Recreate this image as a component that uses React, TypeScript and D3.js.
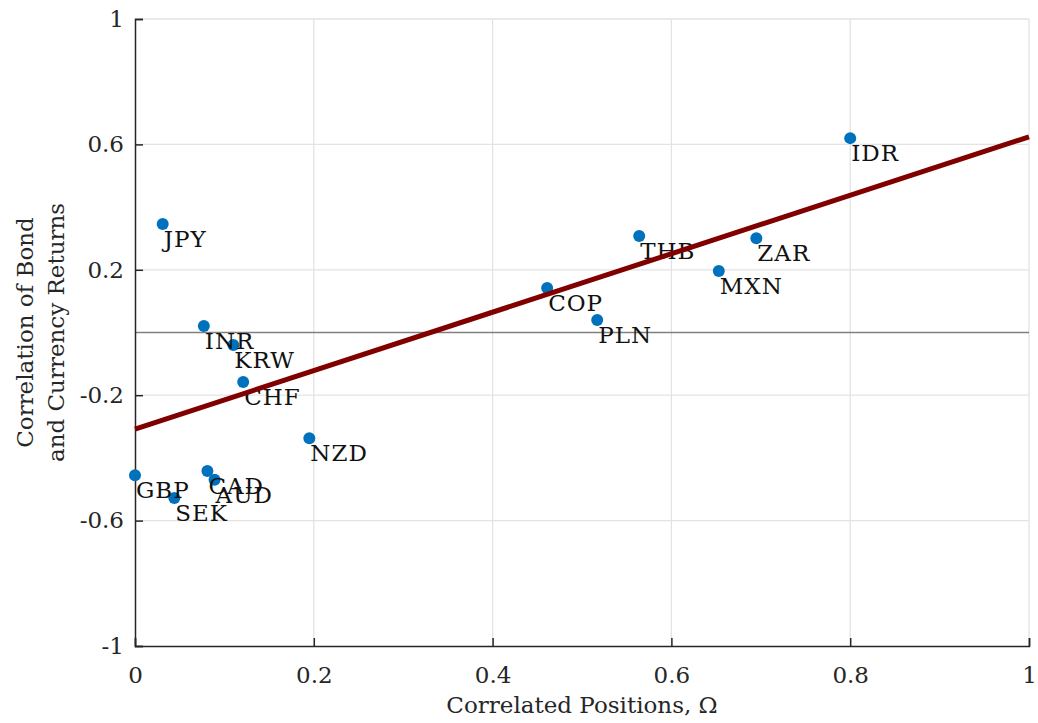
import React, { useEffect, useRef } from 'react';
import * as d3 from 'd3';

// currency points
const currencies = ['JPY', 'IDR', 'THB', 'ZAR', 'MXN', 'COP', 'PLN', 'INR', 'KRW', 'CHF', 'NZD', 'GBP', 'CAD', 'AUD', 'SEK'];
const omega = [0.031, 0.800, 0.564, 0.695, 0.653, 0.461, 0.517, 0.077, 0.110, 0.121, 0.195, 0.000, 0.081, 0.089, 0.044];
const corr = [0.346, 0.620, 0.308, 0.301, 0.196, 0.142, 0.040, 0.021, -0.040, -0.158, -0.337, -0.455, -0.442, -0.470, -0.528];

// fitted line end points
const fitX = [0, 1];
const fitY = [-0.308, 0.624];

const xTicks = [0, 0.2, 0.4, 0.6, 0.8, 1];
const yTicks = [-1, -0.6, -0.2, 0.2, 0.6, 1];

const FONT = "'DejaVu Serif', 'Liberation Serif', serif";

// plain hyphen for negatives, like the original
const fmt = (d) => String(d);

function ScatterFit({ width, height }) {
  const ref = useRef(null);
  const margin = { top: 19, right: 9, bottom: 77, left: 135 };

  useEffect(() => {
    const svg = d3.select(ref.current);
    svg.selectAll('*').remove();
    svg.attr('width', width).attr('height', height);

    const x = d3.scaleLinear().domain([0, 1]).range([margin.left, width - margin.right]);
    const y = d3.scaleLinear().domain([-1, 1]).range([height - margin.bottom, margin.top]);

    // grid
    const grid = svg.append('g');
    grid.selectAll('line.gx').data(xTicks.filter(d => d > 0)).enter().append('line')
      .attr('x1', d => x(d)).attr('x2', d => x(d))
      .attr('y1', y(-1)).attr('y2', y(1))
      .attr('stroke', '#e3e3e3').attr('stroke-width', 1.3);
    grid.selectAll('line.gy').data(yTicks.filter(d => d > -1)).enter().append('line')
      .attr('x1', x(0)).attr('x2', x(1))
      .attr('y1', d => y(d)).attr('y2', d => y(d))
      .attr('stroke', '#e3e3e3').attr('stroke-width', 1.3);

    // zero line
    svg.append('line')
      .attr('x1', x(0)).attr('x2', x(1)).attr('y1', y(0)).attr('y2', y(0))
      .attr('stroke', '#808080').attr('stroke-width', 1.5);

    // axes with inward ticks
    const xAxis = svg.append('g')
      .attr('transform', `translate(0,${y(-1)})`)
      .call(d3.axisBottom(x).tickValues(xTicks).tickSize(-8).tickPadding(21).tickFormat(fmt));
    const yAxis = svg.append('g')
      .attr('transform', `translate(${x(0)},0)`)
      .call(d3.axisLeft(y).tickValues(yTicks).tickSize(-8).tickPadding(11).tickFormat(fmt));
    [xAxis, yAxis].forEach(a => {
      a.attr('font-family', null).attr('font-size', null);
      a.select('.domain').attr('stroke', '#262626').attr('stroke-width', 1.5);
      a.selectAll('.tick line').attr('stroke', '#262626').attr('stroke-width', 1.5);
      a.selectAll('.tick text').attr('fill', '#262626').attr('font-family', FONT).attr('font-size', 23);
    });

    // scatter points
    const pts = currencies.map((c, i) => ({ c, x: omega[i], y: corr[i] }));
    svg.append('g').selectAll('circle').data(pts).enter().append('circle')
      .attr('cx', d => x(d.x)).attr('cy', d => y(d.y)).attr('r', 6)
      .attr('fill', '#0072BD');

    // labels
    svg.append('g').selectAll('text').data(pts).enter().append('text')
      .attr('x', d => x(d.x) + 1).attr('y', d => y(d.y) + 23)
      .text(d => d.c)
      .attr('font-family', FONT).attr('font-size', 23).attr('letter-spacing', 1).attr('fill', '#111');

    // fit line
    const line = d3.line().x(d => x(d[0])).y(d => y(d[1]));
    svg.append('path')
      .datum(fitX.map((v, i) => [v, fitY[i]]))
      .attr('d', line)
      .attr('stroke', '#800000').attr('stroke-width', 5).attr('fill', 'none');

    // axis titles
    svg.append('text')
      .attr('x', (x(0) + x(1)) / 2).attr('y', 713)
      .attr('text-anchor', 'middle')
      .attr('font-family', FONT).attr('font-size', 23).attr('fill', '#262626')
      .text('Correlated Positions, Ω');
    const yt = svg.append('text')
      .attr('transform', `translate(0,${y(0)}) rotate(-90)`)
      .attr('text-anchor', 'middle')
      .attr('font-family', FONT).attr('font-size', 23).attr('fill', '#262626');
    yt.append('tspan').attr('x', 0).attr('y', 33).text('Correlation of Bond');
    yt.append('tspan').attr('x', 0).attr('y', 64).text('and Currency Returns');
  }, [width, height]);

  return <svg ref={ref} style={{ display: 'block' }} />;
}

export default function App() {
  return (
    <div style={{ position: 'absolute', left: 0, top: 0, background: '#fff' }}>
      <ScatterFit width={1038} height={723} />
    </div>
  );
}
